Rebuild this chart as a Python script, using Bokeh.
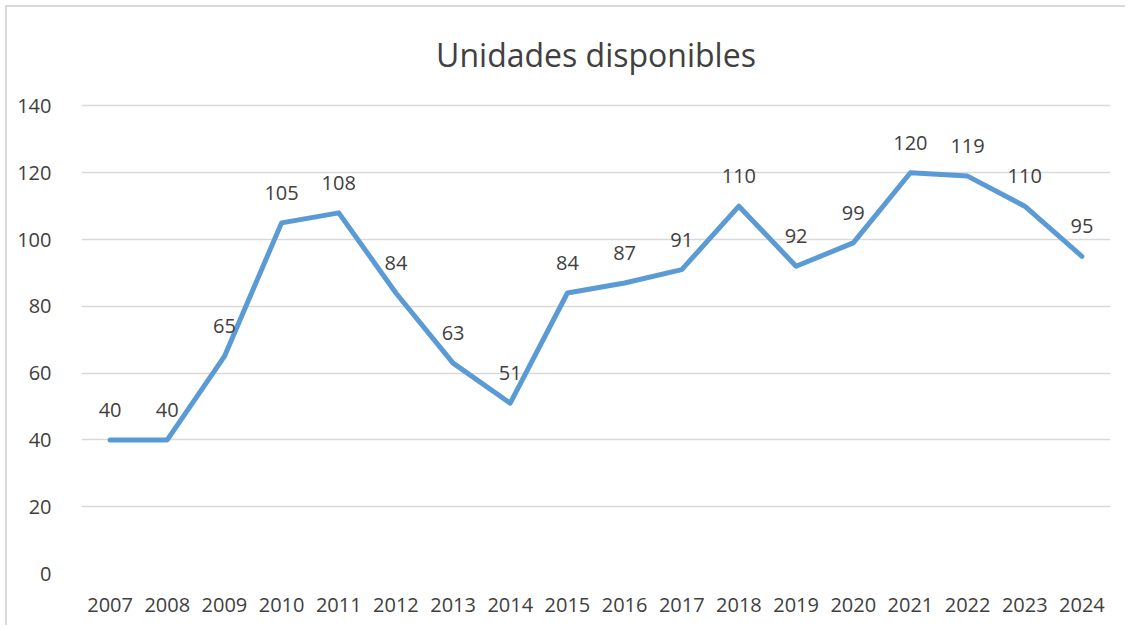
from bokeh.plotting import figure
from bokeh.models import ColumnDataSource, LabelSet, Label, FixedTicker, Range1d
from bokeh.core.properties import value
from bokeh.embed import file_html
from bokeh.resources import INLINE

years = ["2007", "2008", "2009", "2010", "2011", "2012", "2013", "2014", "2015",
         "2016", "2017", "2018", "2019", "2020", "2021", "2022", "2023", "2024"]
units = [40, 40, 65, 105, 108, 84, 63, 51, 84, 87, 91, 110, 92, 99, 120, 119, 110, 95]
y_ticks = [0, 20, 40, 60, 80, 100, 120, 140]
title_text = "Unidades disponibles"

FONT = "Open Sans"
TXT = "#404040"

src = ColumnDataSource(dict(x=years, y=units, lbl=[str(v) for v in units]))

# the frame extends above the top tick so the title can sit inside it
p = figure(x_range=years, y_range=Range1d(0, 164.4), width=1120, height=620,
           output_backend="svg", toolbar_location=None,
           min_border_left=74, min_border_right=17, min_border_top=17,
           min_border_bottom=54,
           styles={"border-left": "2px solid #d9d9d9", "border-top": "2px solid #d9d9d9",
                   "margin-left": "5px", "margin-top": "5px"})

title = Label(x=len(years) / 2, y=155.3, text=title_text, text_align="center",
              text_baseline="alphabetic", text_font=FONT,
              text_font_size="32px", text_color=TXT)
p.add_layout(title)

p.outline_line_color = None
p.xgrid.grid_line_color = None
p.ygrid.grid_line_color = "#d9d9d9"
p.ygrid.grid_line_width = 1.5
p.yaxis.ticker = FixedTicker(ticks=y_ticks)

for ax in (p.xaxis, p.yaxis):
    ax.axis_line_color = None
    ax.major_tick_line_color = None
    ax.minor_tick_line_color = None
    ax.major_label_text_font = FONT
    ax.major_label_text_font_size = "20px"
    ax.major_label_text_color = TXT
p.xaxis.major_label_standoff = 18
p.yaxis.major_label_standoff = 24

p.line("x", "y", source=src, line_color="#5B9BD5", line_width=5,
       line_join="round", line_cap="round")

labels = LabelSet(x="x", y="y", text="lbl", source=src, y_offset=30,
                  text_align="center", text_baseline="middle",
                  text_font=value(FONT), text_font_size=value("20px"),
                  text_color=TXT)
p.add_layout(labels)

open("out.html", "w").write(file_html(p, INLINE))
